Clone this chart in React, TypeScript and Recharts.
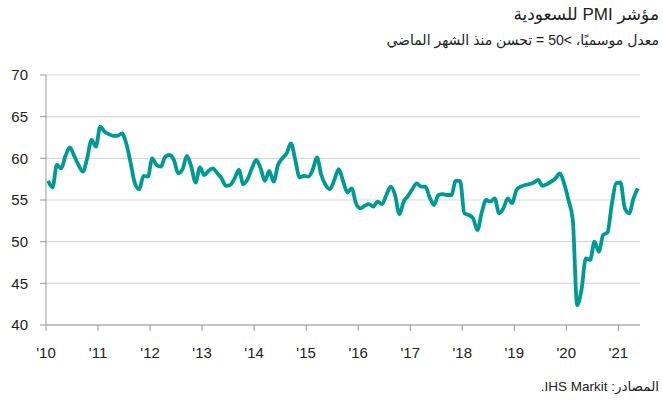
import { LineChart, Line, XAxis, YAxis, CartesianGrid } from 'recharts'

// Saudi PMI, monthly Jan 2010 - May 2021
const pmi2010 = [57.3, 56.5, 59.2, 58.8, 60.3, 61.3, 60.3, 59.2, 58.4, 60.0, 62.2, 61.4]
const pmi2011 = [63.8, 63.2, 62.9, 62.7, 62.7, 63.0, 61.8, 59.5, 57.0, 56.3, 57.9, 57.8]
const pmi2012 = [60.0, 59.2, 59.0, 60.2, 60.4, 59.8, 58.2, 58.7, 60.3, 59.0, 57.1, 58.9]
const pmi2013 = [58.0, 58.5, 58.8, 58.2, 57.6, 56.7, 56.8, 57.6, 58.6, 56.9, 57.5, 58.8]
const pmi2014 = [59.8, 58.8, 57.3, 58.5, 57.2, 59.2, 60.0, 60.6, 61.8, 59.8, 57.7, 57.9]
const pmi2015 = [57.8, 58.6, 60.1, 58.0, 56.8, 56.3, 57.4, 58.7, 57.3, 55.9, 56.4, 54.6]
const pmi2016 = [54.0, 54.3, 54.5, 54.2, 54.8, 54.5, 55.6, 56.6, 55.6, 53.3, 54.8, 55.5]
const pmi2017 = [56.3, 57.0, 56.6, 56.6, 55.3, 54.4, 55.6, 55.7, 55.6, 55.6, 57.3, 57.3]
const pmi2018 = [53.4, 53.2, 52.8, 51.4, 53.5, 55.0, 54.8, 55.2, 53.4, 54.0, 55.2, 54.6]
const pmi2019 = [56.2, 56.6, 56.8, 56.9, 57.1, 57.4, 56.7, 56.9, 57.2, 57.6, 58.2, 57.0]
const pmi2020 = [55.0, 52.6, 42.4, 44.2, 48.0, 47.8, 50.0, 48.8, 50.8, 51.1, 54.5, 57.0]
const pmi2021 = [57.1, 54.0, 53.4, 55.2, 56.4]

const yearLabels = ["'10", "'11", "'12", "'13", "'14", "'15", "'16", "'17", "'18", "'19", "'20", "'21"]
const yTicks = [40, 45, 50, 55, 60, 65, 70]

const values = [
  ...pmi2010, ...pmi2011, ...pmi2012, ...pmi2013, ...pmi2014, ...pmi2015,
  ...pmi2016, ...pmi2017, ...pmi2018, ...pmi2019, ...pmi2020, ...pmi2021,
]

// months sit in the middle of their slot, year ticks on slot boundaries
const data = values.map((v, i) => ({ m: i + 0.5, pmi: v }))
const xTicks = yearLabels.map((_, i) => i * 12)

const font = 'Arial, "Liberation Sans", "DejaVu Sans", sans-serif'

export default function App() {
  return (
    <div
      style={{
        position: 'absolute',
        left: 0,
        top: 0,
        width: 663,
        height: 403,
        background: '#fff',
        fontFamily: font,
        color: '#222',
      }}
    >
      <div
        dir="rtl"
        style={{ position: 'absolute', right: 4, top: 5, fontSize: 17, lineHeight: '20px' }}
      >
        مؤشر PMI للسعودية
      </div>
      <div
        dir="rtl"
        style={{ position: 'absolute', right: 4, top: 31, fontSize: 14, lineHeight: '18px' }}
      >
        معدل موسميًا، &gt;50 = تحسن منذ الشهر الماضي
      </div>

      <div style={{ position: 'absolute', left: 0, top: 0 }}>
        <LineChart
          width={663}
          height={403}
          data={data}
          margin={{ top: 75, right: 23, bottom: 48, left: 0 }}
        >
          <CartesianGrid horizontal vertical={false} stroke="#d9d9d9" strokeWidth={1.2} />
          <XAxis
            dataKey="m"
            type="number"
            domain={[0, values.length]}
            ticks={xTicks}
            interval={0}
            tickFormatter={(t: number) => yearLabels[t / 12]}
            stroke="#999"
            tickSize={6}
            tickMargin={16}
            tick={{ fontSize: 15, fill: '#222', fontFamily: font }}
          />
          <YAxis
            type="number"
            domain={[40, 70]}
            ticks={yTicks}
            interval={0}
            width={46}
            stroke="#999"
            tickSize={6}
            tickMargin={12}
            tick={{ fontSize: 15, fill: '#222', fontFamily: font }}
          />
          <Line
            type="monotone"
            dataKey="pmi"
            stroke="#009a94"
            strokeWidth={3.8}
            dot={false}
            isAnimationActive={false}
          />
        </LineChart>
      </div>

      <div
        dir="rtl"
        style={{ position: 'absolute', right: 4, top: 378, fontSize: 13.5, lineHeight: '17px' }}
      >
        المصادر: IHS Markit.
      </div>
    </div>
  )
}
